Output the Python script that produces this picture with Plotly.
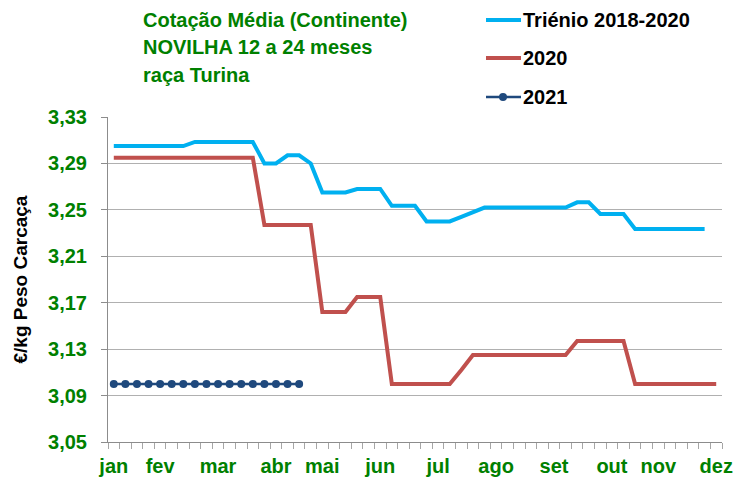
import plotly.graph_objects as go

# ---- data (weekly, 53 weeks) ----
trienio = ([3.305] * 7 + [3.3085] * 6 + [3.290] * 2 + [3.297] * 2 + [3.290] +
           [3.265] * 3 + [3.268] * 3 + [3.2535] * 3 + [3.240] * 3 + [3.244] + [3.248] +
           [3.252] * 8 + [3.2565] * 2 + [3.2465] * 3 + [3.2335] * 7)
y2020 = ([3.295] * 13 + [3.237] * 5 + [3.162] * 3 + [3.175] * 3 + [3.100] * 6 + [3.112] +
         [3.125] * 9 + [3.137] * 5 + [3.100] * 8)
y2021 = [3.10] * 17

month_labels = ["jan", "fev", "mar", "abr", "mai", "jun", "jul", "ago", "set", "out", "nov", "dez"]
month_weeks = [0, 4, 9, 14, 18, 23, 28, 33, 38, 43, 47, 52]

series_names = ["Triénio 2018-2020", "2020", "2021"]
colors = ["#00B0F0", "#C0504D", "#1F497D"]
GREEN = "#008000"
FONT = "Liberation Sans"

W, H = 750, 482
L, R, T, B = 108, 28, 117, 40
PW, PH = W - L - R, H - T - B


def px(x):
    return (x - L) / PW


def py(y):
    return (H - B - y) / PH


fig = go.Figure()
fig.add_trace(go.Scatter(x=list(range(len(trienio))), y=trienio, mode="lines",
                         line=dict(color=colors[0], width=4), name=series_names[0]))
fig.add_trace(go.Scatter(x=list(range(len(y2020))), y=y2020, mode="lines",
                         line=dict(color=colors[1], width=4), name=series_names[1]))
fig.add_trace(go.Scatter(x=list(range(len(y2021))), y=y2021, mode="lines+markers",
                         line=dict(color=colors[2], width=2.5),
                         marker=dict(size=8, color=colors[2]), name=series_names[2]))

fig.update_layout(
    width=W, height=H, margin=dict(l=L, r=R, t=T, b=B),
    paper_bgcolor="white", plot_bgcolor="white",
    showlegend=False, separators=",.",
    font=dict(family=FONT, size=20, color="black"),
)

fig.update_xaxes(
    range=[-0.5, 52.5], tickmode="array", tickvals=month_weeks, ticktext=month_labels,
    ticks="", showgrid=False, zeroline=False, ticklabelstandoff=6, automargin=False,
    showline=True, linecolor="#8c8c8c", linewidth=1,
    tickfont=dict(family=FONT, size=20, color=GREEN, weight="bold"),
    minor=dict(tickmode="linear", tick0=-0.5, dtick=1, ticks="outside", ticklen=6,
               tickcolor="#a6a6a6", tickwidth=1, showgrid=False),
)
fig.update_yaxes(
    range=[3.05, 3.33], tickmode="linear", tick0=3.05, dtick=0.04, tickformat=".2f",
    showgrid=True, gridcolor="#b0b0b0", gridwidth=1, zeroline=False, automargin=False,
    showline=True, linecolor="#8c8c8c", linewidth=1,
    ticks="outside", ticklen=6, tickcolor="#8c8c8c", ticklabelstandoff=10,
    tickfont=dict(family=FONT, size=20, color=GREEN, weight="bold"),
)

# title lines
for txt, yy in zip(["Cotação Média (Continente)", "NOVILHA 12 a 24 meses", "raça Turina"],
                   [20, 47, 75]):
    fig.add_annotation(xref="paper", yref="paper", x=px(141), y=py(yy), text=txt,
                       showarrow=False, xanchor="left", yanchor="middle",
                       font=dict(family=FONT, size=20, color=GREEN, weight="bold"))

# y axis title
fig.add_annotation(xref="paper", yref="paper", x=px(20), y=0.5, text="€/kg Peso Carcaça",
                   textangle=-90, showarrow=False, xanchor="center", yanchor="middle",
                   font=dict(family=FONT, size=19, color="black", weight="bold"))

# legend
for name, col, yy, i in zip(series_names, colors, [20, 58, 97], range(3)):
    fig.add_shape(type="line", xref="paper", yref="paper", x0=px(486), x1=px(521),
                  y0=py(yy), y1=py(yy), line=dict(color=col, width=4 if i < 2 else 2.5))
    if i == 2:
        fig.add_shape(type="circle", xref="paper", yref="paper", x0=px(499), x1=px(507),
                      y0=py(yy + 4), y1=py(yy - 4), fillcolor=col, line=dict(color=col, width=0))
    fig.add_annotation(xref="paper", yref="paper", x=px(521), y=py(yy), text=name,
                       showarrow=False, xanchor="left", yanchor="middle",
                       font=dict(family=FONT, size=20, color="black", weight="bold"))

fig.write_html("out.html", config={"displayModeBar": False},
               post_script="document.body.style.margin='0';")
